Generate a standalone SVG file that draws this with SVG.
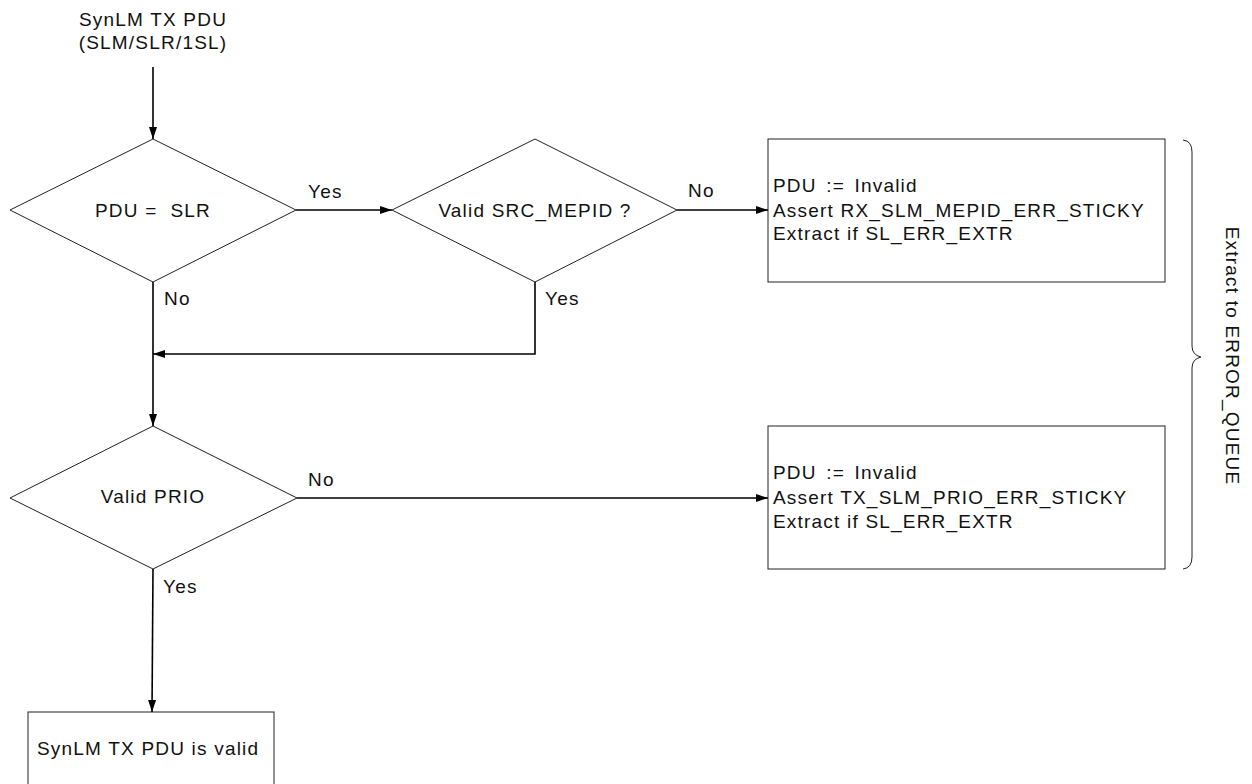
<svg xmlns="http://www.w3.org/2000/svg" width="1252" height="784" viewBox="0 0 1252 784">
<style>
text{font-family:"Liberation Sans",Arial,sans-serif;font-size:19px;fill:#111;letter-spacing:1.2px;white-space:pre}
.shape{fill:#fff;stroke:#222;stroke-width:1}
.conn{fill:none;stroke:#000;stroke-width:1.6}
.mid{text-anchor:middle}
</style>
<defs>
<marker id="ah" viewBox="0 0 12 10" refX="12" refY="5" markerWidth="12" markerHeight="10" markerUnits="userSpaceOnUse" orient="auto">
<path d="M0,1 L12,5 L0,9 Z" fill="#000"/>
</marker>
</defs>
<rect width="1252" height="784" fill="#fff"/>
<g id="start">
<text class="mid" x="153" y="26">SynLM TX PDU</text>
<text class="mid" x="153" y="49">(SLM/SLR/1SL)</text>
</g>
<g id="d1">
<polygon class="shape" points="153,139 296,210 153,282 10,210"/>
<text class="mid" x="153" y="217">PDU =  SLR</text>
</g>
<g id="d2">
<polygon class="shape" points="535,139 677,210 535,282 392,210"/>
<text class="mid" x="535" y="217">Valid SRC_MEPID ?</text>
</g>
<g id="box1">
<rect class="shape" x="768" y="139" width="397" height="143"/>
<text x="773" y="192" style="word-spacing:3px">PDU := Invalid</text>
<text x="773" y="217">Assert RX_SLM_MEPID_ERR_STICKY</text>
<text x="773" y="240">Extract if SL_ERR_EXTR</text>
</g>
<g id="d3">
<polygon class="shape" points="153,426 297,498 153,569 10,498"/>
<text class="mid" x="153" y="503">Valid PRIO</text>
</g>
<g id="box2">
<rect class="shape" x="768" y="426" width="397" height="143"/>
<text x="773" y="479" style="word-spacing:3px">PDU := Invalid</text>
<text x="773" y="504">Assert TX_SLM_PRIO_ERR_STICKY</text>
<text x="773" y="528">Extract if SL_ERR_EXTR</text>
</g>
<g id="end">
<rect class="shape" x="28" y="712" width="246" height="90"/>
<text x="37" y="755">SynLM TX PDU is valid</text>
</g>
<g id="brace">
<path d="M1183,140 Q1192,141 1192,152 L1192,346 Q1192,355 1201,357 Q1192,359 1192,368 L1192,557 Q1192,568 1183,569" fill="none" stroke="#222" stroke-width="1"/>
<text class="mid" transform="translate(1226,356) rotate(90)" x="0" y="0">Extract to ERROR_QUEUE</text>
</g>
<g id="connectors">
<path class="conn" d="M153,67 L153,139" marker-end="url(#ah)"/>
<path class="conn" d="M296,210 L392,210" marker-end="url(#ah)"/>
<path class="conn" d="M677,210 L768,210" marker-end="url(#ah)"/>
<path class="conn" d="M153,282 L153,426" marker-end="url(#ah)"/>
<path class="conn" d="M535,282 L535,354 L153,354" marker-end="url(#ah)"/>
<path class="conn" d="M297,498 L768,498" marker-end="url(#ah)"/>
<path class="conn" d="M153,569 L152,712" marker-end="url(#ah)"/>
<text x="308" y="198">Yes</text>
<text x="688" y="197">No</text>
<text x="164" y="305">No</text>
<text x="545" y="305">Yes</text>
<text x="308" y="486">No</text>
<text x="163" y="593">Yes</text>
</g>
</svg>
